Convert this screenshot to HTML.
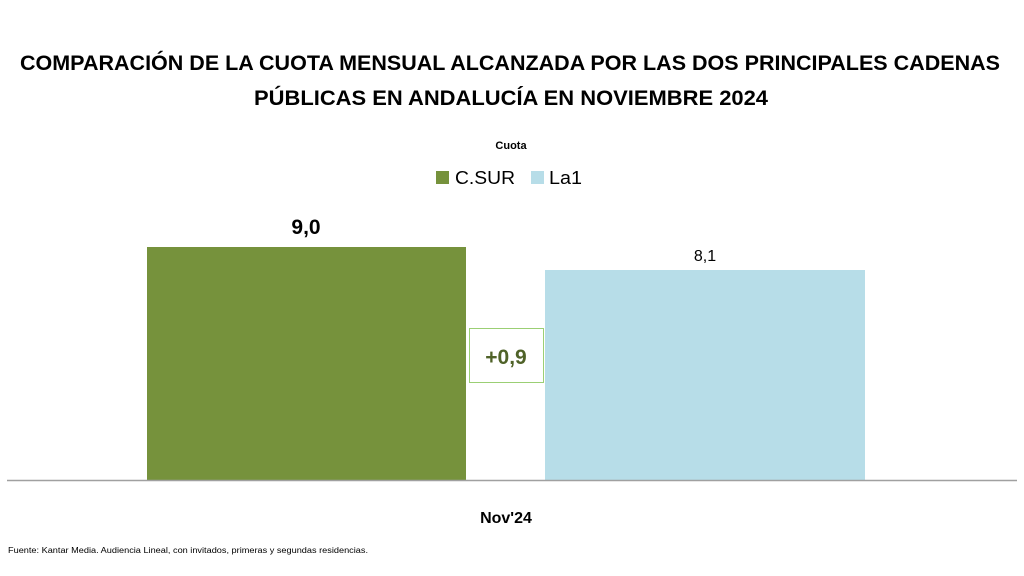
<!DOCTYPE html>
<html><head><meta charset="utf-8"><style>
html,body{margin:0;padding:0;background:#fff;}
svg{display:block;font-family:"Liberation Sans",sans-serif;}
</style></head><body>
<svg width="1024" height="576" viewBox="0 0 1024 576">
<text x="510" y="70" text-anchor="middle" font-size="21" font-weight="bold" fill="#000" textLength="980" lengthAdjust="spacingAndGlyphs">COMPARACIÓN DE LA CUOTA MENSUAL ALCANZADA POR LAS DOS PRINCIPALES CADENAS</text>
<text x="511" y="105" text-anchor="middle" font-size="21" font-weight="bold" fill="#000" textLength="514" lengthAdjust="spacingAndGlyphs">PÚBLICAS EN ANDALUCÍA EN NOVIEMBRE 2024</text>
<text x="511" y="149" text-anchor="middle" font-size="11" font-weight="bold" fill="#000">Cuota</text>
<rect x="436" y="171" width="13" height="13" fill="#76923c"/>
<text x="455" y="184" font-size="18" fill="#000" textLength="60" lengthAdjust="spacingAndGlyphs">C.SUR</text>
<rect x="531" y="171" width="13" height="13" fill="#b7dde8"/>
<text x="549" y="184" font-size="18" fill="#000" textLength="33" lengthAdjust="spacingAndGlyphs">La1</text>
<rect x="147" y="247" width="319" height="233" fill="#76923c"/>
<rect x="545" y="270" width="320" height="210" fill="#b7dde8"/>
<line x1="7" y1="480.5" x2="1017" y2="480.5" stroke="#a0a0a0" stroke-width="1.5"/>
<text x="306" y="234" text-anchor="middle" font-size="21" font-weight="bold" fill="#000">9,0</text>
<text x="705" y="261" text-anchor="middle" font-size="16" fill="#000">8,1</text>
<rect x="469.5" y="328.5" width="74" height="54" fill="#fff" stroke="#9bcf74" stroke-width="1"/>
<text x="506" y="364" text-anchor="middle" font-size="21" font-weight="bold" fill="#4f6228">+0,9</text>
<text x="506" y="523" text-anchor="middle" font-size="16" font-weight="bold" fill="#000">Nov'24</text>
<text x="8" y="553" font-size="8" fill="#000" textLength="360" lengthAdjust="spacingAndGlyphs">Fuente: Kantar Media. Audiencia Lineal, con invitados, primeras y segundas residencias.</text>
</svg>
</body></html>
